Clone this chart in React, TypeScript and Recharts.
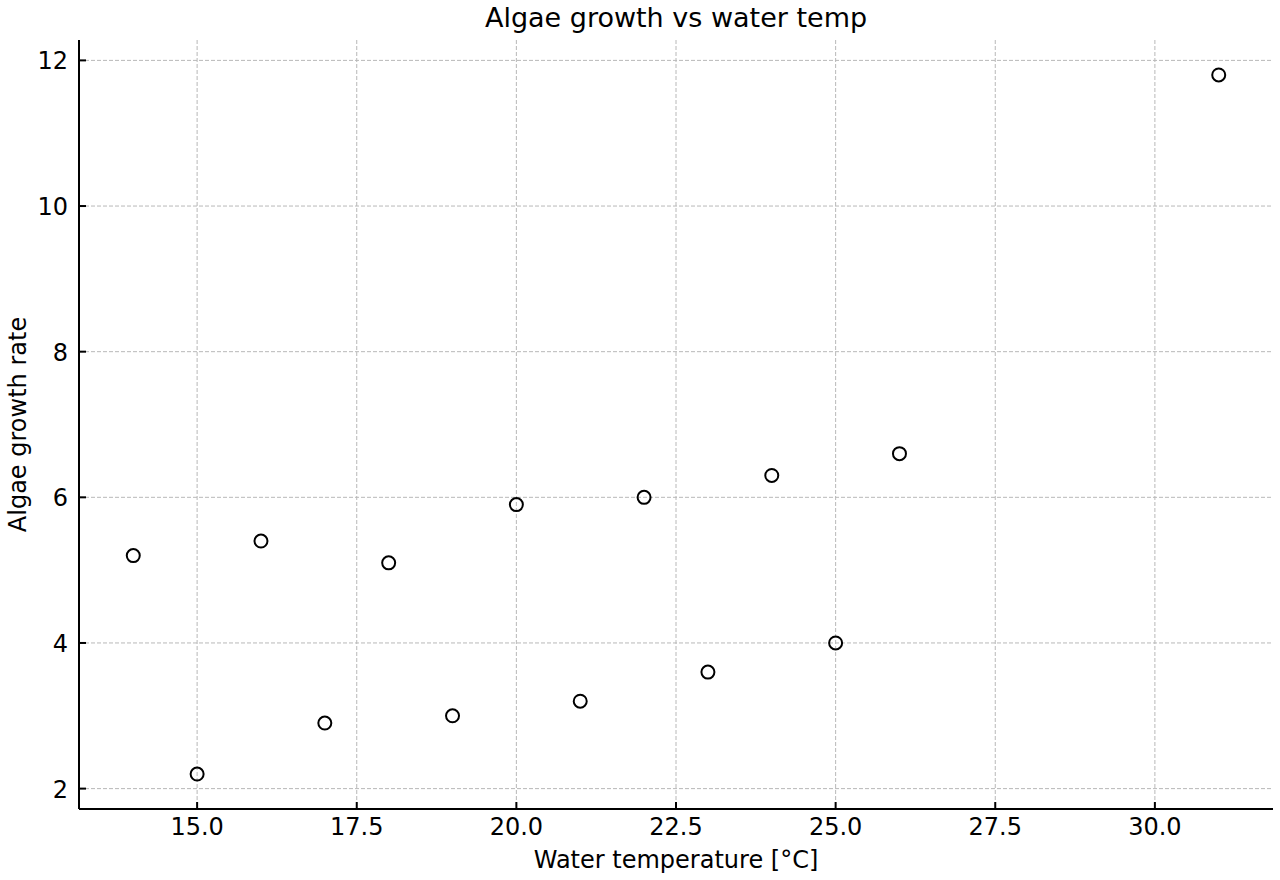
import React from "react";
import { CartesianGrid, Label, Scatter, ScatterChart, XAxis, YAxis } from "recharts";

// measured samples: water temperature (°C) and algae growth rate
const waterTemp = [14, 15, 16, 17, 18, 19, 20, 21, 22, 23, 24, 25, 26, 31];
const growthRate = [5.2, 2.2, 5.4, 2.9, 5.1, 3.0, 5.9, 3.2, 6.0, 3.6, 6.3, 4.0, 6.6, 11.8];

const xTicks = [15, 17.5, 20, 22.5, 25, 27.5, 30];
const yTicks = [2, 4, 6, 8, 10, 12];

const FONT = "'DejaVu Sans', sans-serif";
const TICK_LEN = 7;

const points = waterTemp.map((t, i) => ({ temp: t, rate: growthRate[i] }));

function XTick({ x, y, payload }: any) {
  return (
    <g>
      <line x1={x} x2={x} y1={y} y2={y - TICK_LEN} stroke="#000" strokeWidth={2} />
      <text x={x} y={y + 26} textAnchor="middle" fontSize={24} fontFamily={FONT} fill="#000">
        {Number(payload.value).toFixed(1)}
      </text>
    </g>
  );
}

function YTick({ x, y, payload }: any) {
  return (
    <g>
      <line x1={x} x2={x + TICK_LEN} y1={y} y2={y} stroke="#000" strokeWidth={2} />
      <text x={x - 11} y={y + 9} textAnchor="end" fontSize={24} fontFamily={FONT} fill="#000">
        {payload.value}
      </text>
    </g>
  );
}

function HollowDot({ cx, cy }: any) {
  return <circle cx={cx} cy={cy} r={6.5} fill="none" stroke="#000" strokeWidth={2} />;
}

export default function App() {
  return (
    <div style={{ position: "absolute", left: 0, top: 0, width: 1280, height: 880, background: "#fff" }}>
      <div
        style={{
          position: "absolute",
          left: 79,
          width: 1194,
          top: 2,
          textAlign: "center",
          fontFamily: FONT,
          fontSize: 27,
          color: "#000",
        }}
      >
        Algae growth vs water temp
      </div>
      <ScatterChart width={1280} height={880} margin={{ top: 40, right: 7, bottom: 0, left: 0 }}>
        {/* grid only at tick values, no frame around the plot */}
        <CartesianGrid
          stroke="#b8b8b8"
          strokeDasharray="4 2"
          strokeWidth={1}
          horizontalValues={yTicks}
          verticalValues={xTicks}
        />
        <XAxis
          type="number"
          dataKey="temp"
          domain={[13.15, 31.85]}
          ticks={xTicks}
          interval={0}
          allowDataOverflow
          height={71}
          tickSize={0}
          tickMargin={0}
          tick={<XTick />}
          axisLine={{ stroke: "#000", strokeWidth: 2 }}
        >
          <Label
            content={({ viewBox }: any) => (
              <text
                x={viewBox.x + viewBox.width / 2}
                y={viewBox.y + 59}
                textAnchor="middle"
                fontSize={24}
                fontFamily={FONT}
                fill="#000"
              >
                Water temperature [°C]
              </text>
            )}
          />
        </XAxis>
        <YAxis
          type="number"
          dataKey="rate"
          domain={[1.72, 12.28]}
          ticks={yTicks}
          interval={0}
          allowDataOverflow
          width={79}
          tickSize={0}
          tickMargin={0}
          tick={<YTick />}
          axisLine={{ stroke: "#000", strokeWidth: 2 }}
        >
          <Label
            content={({ viewBox }: any) => {
              const cx = 26;
              const cy = viewBox.y + viewBox.height / 2;
              return (
                <text
                  x={cx}
                  y={cy}
                  transform={`rotate(-90 ${cx} ${cy})`}
                  textAnchor="middle"
                  fontSize={24}
                  fontFamily={FONT}
                  fill="#000"
                >
                  Algae growth rate
                </text>
              );
            }}
          />
        </YAxis>
        <Scatter data={points} shape={<HollowDot />} isAnimationActive={false} />
      </ScatterChart>
    </div>
  );
}
